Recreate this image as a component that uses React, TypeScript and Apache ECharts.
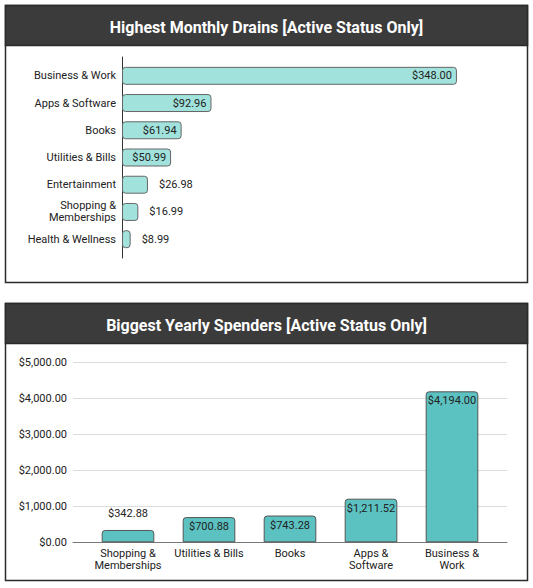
import React, { useEffect, useRef } from 'react';
import * as echarts from 'echarts';

const monthlyTitle = 'Highest Monthly Drains [Active Status Only]';
const monthlyCats = [
  'Business & Work',
  'Apps & Software',
  'Books',
  'Utilities & Bills',
  'Entertainment',
  'Shopping &\nMemberships',
  'Health & Wellness',
];
const monthlyVals = [348.0, 92.96, 61.94, 50.99, 26.98, 16.99, 8.99];

const yearlyTitle = 'Biggest Yearly Spenders [Active Status Only]';
const yearlyCats = ['Shopping &\nMemberships', 'Utilities & Bills', 'Books', 'Apps &\nSoftware', 'Business &\nWork'];
const yearlyVals = [342.88, 700.88, 743.28, 1211.52, 4194.0];

const FONT = 'Roboto, Arial, sans-serif';
const money = (v: number) =>
  '$' + v.toLocaleString('en-US', { minimumFractionDigits: 2, maximumFractionDigits: 2 });

const App = () => {
  const chartRef = useRef<HTMLDivElement>(null);

  useEffect(() => {
    document.body.style.margin = '0';
    if (!chartRef.current) return;
    const chart = echarts.init(chartRef.current, null, { renderer: 'svg' });

    const panel = (y: number) => [
      {
        type: 'rect',
        shape: { x: 5.5, y: y + 0.5, width: 522, height: 277 },
        style: { fill: '#fff', stroke: '#2b2b2b', lineWidth: 1.5 },
        z: -10,
      },
      {
        type: 'rect',
        shape: { x: 5.5, y: y + 0.5, width: 522, height: 40 },
        style: { fill: '#3b3b3b', stroke: '#2b2b2b', lineWidth: 1.5 },
        z: -9,
      },
    ];

    const option = {
      animation: false,
      textStyle: { fontFamily: FONT },
      title: [
        {
          text: monthlyTitle,
          left: 'center',
          top: 14,
          textStyle: { color: '#fff', fontSize: 16, fontWeight: 'bold', fontFamily: FONT },
        },
        {
          text: yearlyTitle,
          left: 'center',
          top: 312,
          textStyle: { color: '#fff', fontSize: 16, fontWeight: 'bold', fontFamily: FONT },
        },
      ],
      graphic: [...panel(5), ...panel(303)],
      grid: [
        { left: 122, top: 57, width: 385, height: 201 },
        { left: 122, top: 62.2, width: 385, height: 190.6 },
        { left: 73, top: 362.3, width: 434, height: 180 },
        { left: 87.5, top: 362.3, width: 405, height: 180 },
      ],
      xAxis: [
        { gridIndex: 0, type: 'value', min: 0, max: 400, show: false },
        { gridIndex: 1, type: 'value', min: 0, max: 400, show: false },
        {
          gridIndex: 2,
          type: 'category',
          data: ['a'],
          axisLine: { lineStyle: { color: '#777', width: 1 } },
          axisTick: { show: false },
          axisLabel: { show: false },
        },
        {
          gridIndex: 3,
          type: 'category',
          data: yearlyCats,
          axisLine: { show: false },
          axisTick: { show: false },
          axisLabel: { interval: 0, margin: 5, fontSize: 11, lineHeight: 12, color: '#222', fontFamily: FONT },
        },
      ],
      yAxis: [
        {
          gridIndex: 0,
          type: 'category',
          data: monthlyCats,
          axisLine: { lineStyle: { color: '#333', width: 1 } },
          axisTick: { show: false },
          axisLabel: { show: false },
        },
        {
          gridIndex: 1,
          type: 'category',
          inverse: true,
          data: monthlyCats,
          axisLine: { show: false },
          axisTick: { show: false },
          axisLabel: { interval: 0, margin: 6, fontSize: 11, lineHeight: 12, color: '#222', fontFamily: FONT },
        },
        {
          gridIndex: 2,
          type: 'value',
          min: 0,
          max: 5000,
          interval: 1000,
          axisLine: { show: false },
          axisTick: { show: false },
          axisLabel: { margin: 6, fontSize: 11, color: '#222', fontFamily: FONT, formatter: (v: number) => money(v) },
          splitLine: { lineStyle: { color: '#dcdcdc', width: 1 } },
        },
        { gridIndex: 3, type: 'value', min: 0, max: 5000, show: false },
      ],
      series: [
        {
          type: 'bar',
          xAxisIndex: 1,
          yAxisIndex: 1,
          barWidth: '66%',
          itemStyle: { color: '#a1e2dc', borderColor: '#666', borderWidth: 1, borderRadius: 3 },
          data: monthlyVals.map((v) => ({
            value: v,
            label: v >= 50
              ? { position: 'insideRight', distance: 5 }
              : { position: 'right', distance: 11 },
          })),
          label: {
            show: true,
            fontSize: 11,
            color: '#222',
            fontFamily: FONT,
            formatter: (p: any) => money(p.value),
          },
        },
        {
          type: 'bar',
          xAxisIndex: 3,
          yAxisIndex: 3,
          barWidth: '65%',
          itemStyle: { color: '#5cc1c1', borderColor: '#555', borderWidth: 1, borderRadius: [3, 3, 0, 0] },
          data: yearlyVals.map((v) => ({
            value: v,
            label: v >= 500
              ? { position: 'insideTop', distance: 4 }
              : { position: 'top', distance: 11 },
          })),
          label: {
            show: true,
            fontSize: 11,
            color: '#222',
            fontFamily: FONT,
            formatter: (p: any) => money(p.value),
          },
        },
      ],
    };

    chart.setOption(option as any);
    return () => chart.dispose();
  }, []);

  return <div ref={chartRef} style={{ width: 533, height: 588 }} />;
};

export default App;
